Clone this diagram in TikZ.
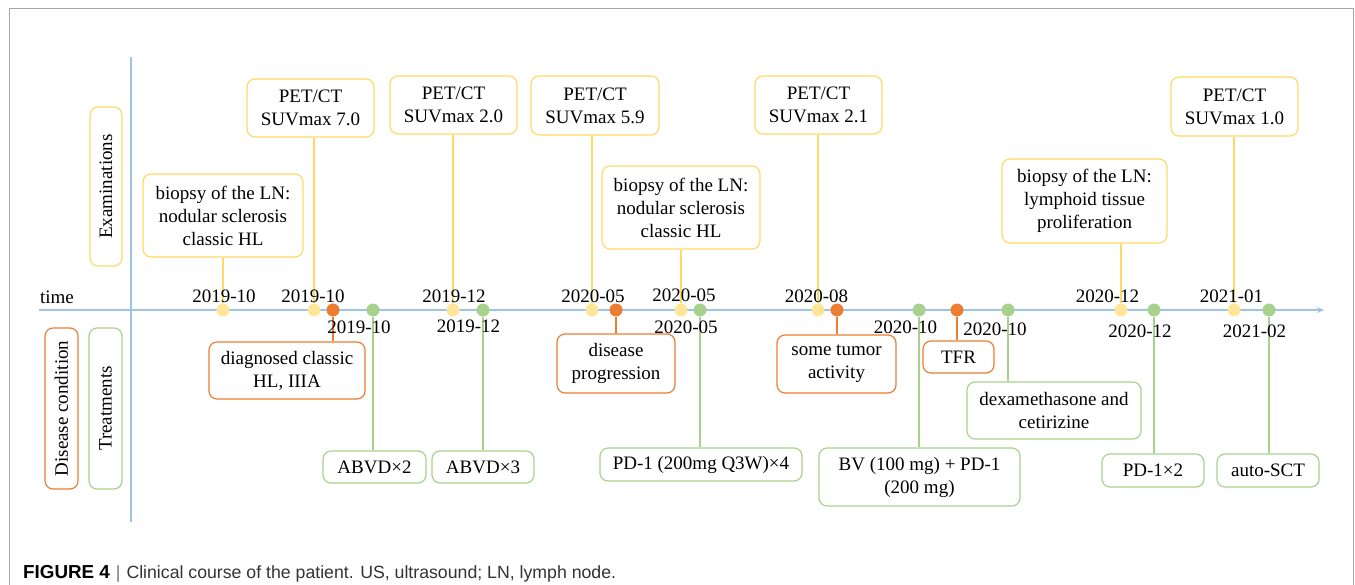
\documentclass[tikz,border=0pt]{standalone}
\usepackage{fontspec}
\setmainfont{Liberation Serif}
\newfontfamily\capfont{Liberation Sans}
\usetikzlibrary{arrows.meta}

\definecolor{exam}{HTML}{FFD966}
\definecolor{examdot}{HTML}{FFE699}
\definecolor{cond}{HTML}{ED7D31}
\definecolor{treat}{HTML}{A9D18E}
\definecolor{timeaxis}{HTML}{9DC3E6}
\definecolor{framegray}{HTML}{A6A6A6}

\begin{document}
\begin{tikzpicture}[x=1pt,y=-1pt,
    font=\fontsize{19}{23}\selectfont,
    box/.style={draw,rounded corners=8pt,line width=1.2pt,align=center,inner sep=0pt},
    ebox/.style={box,draw=exam},
    cbox/.style={box,draw=cond},
    tbox/.style={box,draw=treat},
    dot/.style={circle,inner sep=0pt,minimum size=13pt},
    edot/.style={dot,fill=examdot},
    cdot/.style={dot,fill=cond},
    tdot/.style={dot,fill=treat},
    eline/.style={draw=exam,line width=1.2pt},
    cline/.style={draw=cond,line width=1.2pt},
    tline/.style={draw=treat,line width=1.2pt}]
  \useasboundingbox (0,0) rectangle (1355,585);
  \draw [framegray, line width=1pt] (9,585) -- (9,9) -- (1353,9) -- (1353,585);

  % axes
  \coordinate (t0) at (39,310);
  \coordinate (t1) at (1324,310);
  \coordinate (v0) at (131,57);
  \coordinate (v1) at (131,522);
  \draw [timeaxis, line width=1.5pt, -{Stealth[length=7pt,width=6pt]}] (t0) -- (t1);
  \draw [timeaxis, line width=1.5pt] (v0) -- (v1);
  \node (time) at (57,297) {time};

  % row labels
  \node [ebox, rotate=90, minimum width=159, minimum height=32] (lexam) at (106,186.5) {Examinations};
  \node [cbox, rotate=90, minimum width=161, minimum height=33] (lcond) at (61.5,408.5) {Disease condition};
  \node [tbox, rotate=90, minimum width=161, minimum height=33] (ltreat) at (105.5,408.5) {Treatments};

  % events on the time line
  \node [edot] (e1) at (223,310) {};
  \node [edot] (e2) at (314,310) {};
  \node [cdot] (c1) at (333,310) {};
  \node [tdot] (g1) at (373,310) {};
  \node [edot] (e3) at (453,310) {};
  \node [tdot] (g2) at (483,310) {};
  \node [edot] (e4) at (592,310) {};
  \node [cdot] (c2) at (616,310) {};
  \node [edot] (e5) at (681,310) {};
  \node [tdot] (g3) at (700,310) {};
  \node [edot] (e6) at (818,310) {};
  \node [cdot] (c3) at (837,310) {};
  \node [tdot] (g4) at (919,310) {};
  \node [cdot] (c4) at (957,310) {};
  \node [tdot] (g5) at (1008,310) {};
  \node [edot] (e7) at (1121,310) {};
  \node [tdot] (g6) at (1154,310) {};
  \node [edot] (e8) at (1234,310) {};
  \node [tdot] (g7) at (1269,310) {};

  % examinations
  \node [ebox, minimum width=160, minimum height=83] (bio1) at (223,215.5) {biopsy of the LN:\\nodular sclerosis\\classic HL};
  \node [ebox, minimum width=127, minimum height=58] (pet1) at (310.5,108) {PET/CT\\SUVmax 7.0};
  \node [ebox, minimum width=127, minimum height=58] (pet2) at (453.5,105) {PET/CT\\SUVmax 2.0};
  \node [ebox, minimum width=128, minimum height=59] (pet3) at (595,105.5) {PET/CT\\SUVmax 5.9};
  \node [ebox, minimum width=158, minimum height=83] (bio2) at (681,207.5) {biopsy of the LN:\\nodular sclerosis\\classic HL};
  \node [ebox, minimum width=127, minimum height=58] (pet4) at (818.5,105) {PET/CT\\SUVmax 2.1};
  \node [ebox, minimum width=165, minimum height=84] (bio3) at (1084.5,201) {biopsy of the LN:\\lymphoid tissue\\proliferation};
  \node [ebox, minimum width=127, minimum height=59] (pet5) at (1234.5,106.5) {PET/CT\\SUVmax 1.0};

  % disease condition
  \node [cbox, minimum width=156, minimum height=57] (diag) at (287,370.5) {diagnosed classic\\HL, IIIA};
  \node [cbox, minimum width=118, minimum height=59] (prog) at (616,363.5) {disease\\progression};
  \node [cbox, minimum width=119, minimum height=58] (tumor) at (836.5,364) {some tumor\\activity};
  \node [cbox, minimum width=71, minimum height=32] (tfr) at (958.5,357) {TFR};

  % treatments
  \node [tbox, minimum width=103, minimum height=32] (abvd2) at (374.5,467) {ABVD×2};
  \node [tbox, minimum width=102, minimum height=32] (abvd3) at (483,467) {ABVD×3};
  \node [tbox, minimum width=202, minimum height=33] (pdq) at (701,464.5) {PD-1 (200mg Q3W)×4};
  \node [tbox, minimum width=201, minimum height=58] (bvpd) at (919.5,477) {BV (100 mg) + PD-1\\(200 mg)};
  \node [tbox, minimum width=174, minimum height=57] (dex) at (1054,410.5) {dexamethasone and\\cetirizine};
  \node [tbox, minimum width=102, minimum height=33] (pdtwo) at (1153,470.5) {PD-1×2};
  \node [tbox, minimum width=102, minimum height=33] (sct) at (1268,470.5) {auto-SCT};

  % connectors
  \draw [eline] (e1) -- (e1 |- bio1.south);
  \draw [eline] (e2) -- (e2 |- pet1.south);
  \draw [eline] (e3) -- (e3 |- pet2.south);
  \draw [eline] (e4) -- (e4 |- pet3.south);
  \draw [eline] (e5) -- (e5 |- bio2.south);
  \draw [eline] (e6) -- (e6 |- pet4.south);
  \draw [eline] (e7) -- (e7 |- bio3.south);
  \draw [eline] (e8) -- (e8 |- pet5.south);
  \draw [cline] (c1) -- (c1 |- diag.north);
  \draw [cline] (c2) -- (c2 |- prog.north);
  \draw [cline] (c3) -- (c3 |- tumor.north);
  \draw [cline] (c4) -- (c4 |- tfr.north);
  \draw [tline] (g1) -- (g1 |- abvd2.north);
  \draw [tline] (g2) -- (g2 |- abvd3.north);
  \draw [tline] (g3) -- (g3 |- pdq.north);
  \draw [tline] (g4) -- (g4 |- bvpd.north);
  \draw [tline] (g5) -- (g5 |- dex.north);
  \draw [tline] (g6) -- (g6 |- pdtwo.north);
  \draw [tline] (g7) -- (g7 |- sct.north);

  % dates
  \node (de1) at (224,296) {2019-10};
  \node (de2) at (313,296) {2019-10};
  \node (de3) at (454,296) {2019-12};
  \node (de4) at (593,296) {2020-05};
  \node (de5) at (684,295) {2020-05};
  \node (de6) at (816.5,296) {2020-08};
  \node (de7) at (1107.5,296) {2020-12};
  \node (de8) at (1231.5,296) {2021-01};
  \node (dg1) at (359,327.5) {2019-10};
  \node (dg2) at (468.5,326) {2019-12};
  \node (dg3) at (686,327) {2020-05};
  \node (dg4) at (905.5,327.5) {2020-10};
  \node (dg5) at (995,329) {2020-10};
  \node (dg6) at (1140,331) {2020-12};
  \node (dg7) at (1254.5,331) {2021-02};

  \node [anchor=base west, inner sep=0pt, font=\capfont\fontsize{17.7}{20}\selectfont] (cap) at (23,578)
    {{\fontsize{18.8}{20}\selectfont\bfseries FIGURE 4}\hspace{6pt}{\color{black!55}|}\hspace{6pt}{\color{black!80}Clinical course of the patient. US, ultrasound; LN, lymph node.}};
\end{tikzpicture}
\end{document}
